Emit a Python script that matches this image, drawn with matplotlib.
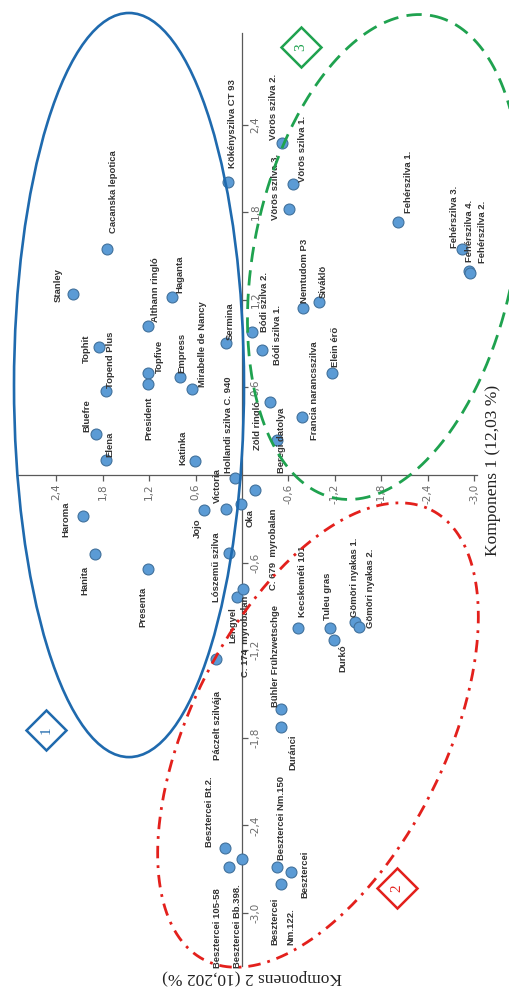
import numpy as np
import matplotlib
matplotlib.use('Agg')
import matplotlib.pyplot as plt
from matplotlib.patches import Ellipse

plt.rcParams['lines.scale_dashes'] = False

# varieties, PCA scores (Komponens 1 = vertical, Komponens 2 = horizontal, reversed)
names = ['Kökényszilva CT 93', 'Vörös szilva 2.', 'Vörös szilva 1.', 'Vörös szilva 3.',
         'Fehérszilva 1.', 'Fehérszilva 3.', 'Fehérszilva 4.', 'Fehérszilva 2.',
         'Cacanska lepotica', 'Stanley', 'Tophit', 'Topend Plus', 'Bluefre', 'Elena',
         'Althann ringló', 'Haganta', 'Topfive', 'President', 'Empress',
         'Mirabelle de Nancy', 'Sermina', 'Katinka', 'Hollandi szilva C. 940',
         'Victoria', 'Jojo', 'Oka', 'C. 679  myrobalan', 'Haroma', 'Hanita', 'Presenta',
         'Lószemű szilva', 'Lengyel', 'C. 174  myrobalan', 'Páczelt szilvája',
         'Kecskeméti 101', 'Bühler Frühzwetschge', 'Duránci', 'Tuleu gras', 'Durkó',
         'Gömöri nyakas 1.', 'Gömöri nyakas 2.', 'Besztercei Bt.2.', 'Besztercei 105-58',
         'Besztercei Bb.398.', 'Besztercei Nm.150', 'Besztercei\nNm.122.', 'Besztercei',
         'Bódi szilva 2.', 'Bódi szilva 1.', 'Nemtudom P3', 'Siváklö', 'Elein érő',
         'Francia narancsszilva', 'Zöld ringló', 'Beregi datolya']

komp1 = [2.007, 2.274, 1.993, 1.822, 1.733, 1.548, 1.397, 1.384,
         1.548, 1.240, 0.877, 0.575, 0.281, 0.103,
         1.021, 1.219, 0.699, 0.623, 0.671, 0.589, 0.904, 0.096, -0.021,
         -0.233, -0.240, -0.199, -0.103, -0.281, -0.541, -0.644,
         -0.534, -0.836, -0.781, -1.260,
         -1.048, -1.603, -1.726, -1.048, -1.130, -1.007, -1.041,
         -2.555, -2.685, -2.630, -2.685, -2.801, -2.719,
         0.979, 0.856, 1.144, 1.185, 0.699, 0.397, 0.500, 0.240]

komp2 = [0.181, -0.517, -0.659, -0.607, -2.016, -2.842, -2.933, -2.946,
         1.744, 2.183, 1.848, 1.757, 1.886, 1.757,
         1.214, 0.904, 1.214, 1.214, 0.801, 0.646, 0.207, 0.607, 0.090,
         0.207, 0.491, 0.013, -0.168, 2.054, 1.899, 1.214,
         0.168, 0.065, -0.013, 0.336,
         -0.724, -0.504, -0.504, -1.137, -1.189, -1.460, -1.512,
         0.220, 0.168, 0.000, -0.452, -0.504, -0.633,
         -0.129, -0.258, -0.788, -0.995, -1.163, -0.775, -0.362, -0.452]

# label start offsets from the point, in pixels (right, down)
label_dx = [5, -9, 9, -13, 10, -7, 1, 13,
            6, -15, -13, 4, -9, 4,
            7, 8, 11, 1, 2, 10, 4, -12, -7,
            -9, -7, 9, 18, -17, -10, -5,
            -12, -4, 2, 2,
            4, -6, 12, -2, 9, 0, 11,
            -15, -11, -5, 5, 2, 14,
            13, 16, 2, 4, 3, 13, -13, 5]
label_dy = [-14, -3, -2, 11, -9, -1, -9, -10,
            -16, 8, 16, -3, -2, -3,
            -4, -4, 0, 56, -4, -2, -3, 4, -5,
            -6, 28, 23, 100, 21, 41, 58,
            49, 46, 88, 101,
            -11, -2, 43, -8, 32, -5, 1,
            -1, 101, 109, -7, 61, 26,
            0, 15, -5, -4, -6, 23, 48, 33]

k1_ticks = [2.4, 1.8, 1.2, 0.6, -0.6, -1.2, -1.8, -2.4, -3.0]
k1_ticklabels = ['2,4', '1,8', '1,2', '0,6', '-0,6', '-1,2', '-1,8', '-2,4', '-3,0']
k2_ticks = [2.4, 1.8, 1.2, 0.6, -0.6, -1.2, -1.8, -2.4, -3.0]
k2_ticklabels = ['2,4', '1,8', '1,2', '0,6', '-0,6', '-1,2', '-1,8', '-2,4', '-3,0']

# group outlines: centre (komp2, komp1) and half-axis vectors
blue_center, blue_w, blue_h = (1.460, 0.616), 2.972, 5.096
red_center, red_u, red_v = (-0.982, -1.781), (-1.465, 1.541), (-1.465, -0.392)
green_center, green_u, green_v = (-1.835, 1.493), (-0.636, 1.651), (-1.646, -0.178)
group_marks = {'1': (2.532, -1.747, '#1F6AAE'),
               '2': (-2.003, -2.829, '#E3201C'),
               '3': (-0.762, 2.932, '#1FA24F')}

fig = plt.figure(figsize=(5.09, 9.90), dpi=100)
ax = fig.add_axes([0, 0, 1, 1])
ax.set_xlim(3.127, -3.45)
ax.set_ylim(-3.527, 3.253)

ax.spines['left'].set_visible(False)
ax.spines['top'].set_visible(False)
ax.spines['right'].set_position(('data', 0))
ax.spines['right'].set_bounds(-3.36, 3.03)
ax.spines['bottom'].set_position(('data', 0))
ax.spines['bottom'].set_bounds(-3.04, 2.89)
for s in ['right', 'bottom']:
    ax.spines[s].set_color('#595959')
    ax.spines[s].set_linewidth(0.9)

ax.yaxis.tick_right()
ax.set_xticks(k2_ticks)
ax.set_xticklabels(k2_ticklabels)
ax.set_yticks(k1_ticks)
ax.set_yticklabels(k1_ticklabels)
ax.tick_params(axis='both', direction='out', length=4, width=0.9, color='#595959',
               labelsize=7.5, labelcolor='#6b6b6b', labelrotation=90, pad=2)
for lbl in ax.get_yticklabels():
    lbl.set_va('center')

ax.scatter(komp2, komp1, s=62, c='#5B9BD5', edgecolors='#41719C', linewidths=0.8, zorder=3)

for name, x, y, dx, dy in zip(names, komp2, komp1, label_dx, label_dy):
    ax.annotate(name, (x, y), xytext=(dx * 0.72, -dy * 0.72), textcoords='offset points',
                rotation=90, rotation_mode='anchor', ha='left', va='center',
                fontsize=6.8, fontweight='bold', color='#333333', family='Liberation Sans',
                linespacing=1.9, zorder=4)

ax.add_patch(Ellipse(blue_center, blue_w, blue_h, fill=False, ec='#1F6AAE', lw=1.9, zorder=5))

t = np.linspace(0, 2 * np.pi, 400)
rx = red_center[0] + red_u[0] * np.cos(t) + red_v[0] * np.sin(t)
ry = red_center[1] + red_u[1] * np.cos(t) + red_v[1] * np.sin(t)
ax.plot(rx, ry, color='#E3201C', lw=2.0, dashes=(9, 5, 2, 5), zorder=5)
gx = green_center[0] + green_u[0] * np.cos(t) + green_v[0] * np.sin(t)
gy = green_center[1] + green_u[1] * np.cos(t) + green_v[1] * np.sin(t)
ax.plot(gx, gy, color='#1FA24F', lw=2.0, dashes=(11, 6), zorder=5)

for num, (x, y, col) in group_marks.items():
    ax.plot([x], [y], marker='D', ms=20, mfc='white', mec=col, mew=1.8, zorder=6)
    ax.text(x, y, num, rotation=90, ha='center', va='center', family='Liberation Serif',
            fontsize=11, color=col, zorder=7)

ax.text(0.9686, 0.525, 'Komponens 1 (12,03 %)', transform=ax.transAxes, rotation=90,
        ha='center', va='center', family='Liberation Serif', fontsize=12.5, color='#222222')
ax.text(0.495, 0.0131, 'Komponens 2 (10,202 %)', transform=ax.transAxes, rotation=180,
        ha='center', va='center', family='Liberation Serif', fontsize=12.5, color='#222222')

fig.savefig('out.png', dpi=100)
